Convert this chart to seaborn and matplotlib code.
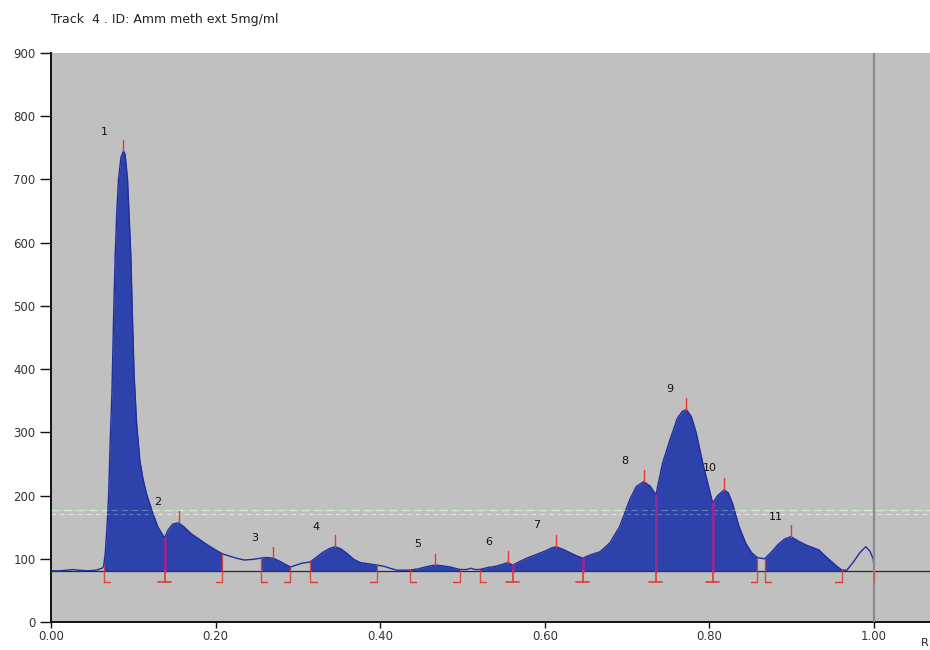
import numpy as np
import pandas as pd
import matplotlib
matplotlib.use("Agg")
import matplotlib.pyplot as plt
import seaborn as sns

# Densitometric scan of track 4 (Rf vs. absorbance units)
rf = [0.000, 0.010, 0.020, 0.027, 0.033, 0.045, 0.055, 0.062, 0.064, 0.066,
      0.068, 0.070, 0.072, 0.074, 0.076, 0.078, 0.080, 0.082, 0.085, 0.088,
      0.090, 0.093, 0.095, 0.097, 0.099, 0.101, 0.104, 0.108, 0.112, 0.116,
      0.124, 0.130, 0.138, 0.142, 0.148, 0.155, 0.162, 0.170, 0.180, 0.190,
      0.200, 0.208, 0.215, 0.225, 0.235, 0.245, 0.255, 0.262, 0.270, 0.278,
      0.285, 0.291, 0.298, 0.305, 0.315, 0.322, 0.330, 0.338, 0.345, 0.352,
      0.360, 0.368, 0.376, 0.386, 0.396, 0.405, 0.412, 0.420, 0.428, 0.436,
      0.446, 0.455, 0.462, 0.467, 0.475, 0.485, 0.497, 0.505, 0.510, 0.515,
      0.521, 0.530, 0.540, 0.548, 0.555, 0.561, 0.570, 0.580, 0.590, 0.600,
      0.608, 0.614, 0.622, 0.630, 0.638, 0.646, 0.655, 0.667, 0.679, 0.691,
      0.703, 0.711, 0.720, 0.728, 0.735, 0.743, 0.752, 0.761, 0.767, 0.772,
      0.778, 0.784, 0.792, 0.800, 0.804, 0.810, 0.818, 0.823, 0.828, 0.836,
      0.844, 0.851, 0.858, 0.862, 0.867, 0.875, 0.883, 0.891, 0.899, 0.908,
      0.917, 0.925, 0.933, 0.941, 0.949, 0.955, 0.961, 0.967, 0.975, 0.983,
      0.990, 0.995, 0.999, 1.000]
au = [81, 81, 82, 83, 82, 81, 82, 85, 88, 110,
      150, 200, 290, 360, 480, 580, 650, 700, 735, 745,
      740, 700, 640, 580, 480, 390, 315, 255, 225, 203,
      171, 150, 133, 145, 155, 157, 150, 140, 131, 122,
      114, 108, 105, 101, 98, 99, 101, 102, 101, 96,
      91, 87, 90, 93, 95, 102, 110, 116, 119, 116,
      108, 99, 94, 92, 90, 88, 85, 82, 82, 82,
      84, 87, 89, 90, 89, 87, 83, 83, 85, 83,
      83, 86, 88, 91, 94, 90, 96, 102, 107, 112,
      117, 119, 115, 110, 105, 101, 106, 111, 125, 151,
      193, 214, 222, 215, 201, 251, 288, 322, 333, 336,
      325, 299, 251, 209, 188, 200, 209, 204, 188, 151,
      125, 110, 102, 101, 100, 110, 122, 131, 135, 128,
      122, 118, 114, 104, 95, 88, 82, 82, 95, 110,
      119, 112, 100, 87]

# Integrated peaks: number, start Rf, end Rf, apex Rf
peak_ids = ["1", "2", "3", "4", "5", "6", "7", "8", "9", "10", "11"]
peak_start = [0.064, 0.138, 0.255, 0.315, 0.436, 0.521, 0.561, 0.646, 0.735, 0.804, 0.867]
peak_end = [0.138, 0.208, 0.291, 0.396, 0.497, 0.561, 0.646, 0.735, 0.804, 0.858, 0.961]
peak_max = [0.088, 0.155, 0.270, 0.345, 0.467, 0.555, 0.614, 0.720, 0.772, 0.818, 0.899]

# Peak number labels (Rf, AU)
label_rf = [0.065, 0.130, 0.248, 0.322, 0.445, 0.532, 0.590, 0.697, 0.752, 0.800, 0.881]
label_au = [775, 190, 133, 150, 124, 126, 153, 254, 368, 243, 166]

x_ticks = [0.0, 0.2, 0.4, 0.6, 0.8, 1.0]
x_labels = ["0.00", "0.20", "0.40", "0.60", "0.80", "1.00"]
y_ticks = [0, 100, 200, 300, 400, 500, 600, 700, 800, 900]

baseline = 81
mark_low = 63

df = pd.DataFrame({"Rf": rf, "AU": au})
rf_arr = np.array(rf)
au_arr = np.array(au)

sns.set_theme(style="white")
plt.rcParams["font.family"] = ["DejaVu Sans"]

fig = plt.figure(figsize=(9.3, 6.5), dpi=100)
ax = fig.add_axes([51 / 930, 28 / 650, 879 / 930, 569 / 650])
ax.set_facecolor("#c0c0c0")

xmax = 879 / 823
ax.set_xlim(0, xmax)
ax.set_ylim(0, 900)

# baseline of the integration
ax.axhline(baseline, color="#2a2a2a", lw=0.9, zorder=1)

# reference lines (mostly hidden behind the peak areas)
ax.axhline(177, color="#c9efc4", lw=1.0, ls=(0, (6, 3)), zorder=1.5)
ax.axhline(171, color="#e4e4e4", lw=0.8, ls=(0, (4, 4)), zorder=1.5)

fill_col = "#2d42aa"
line_col = "#1f2f9e"

for s, e in zip(peak_start, peak_end):
    m = (rf_arr >= s - 1e-9) & (rf_arr <= e + 1e-9)
    ax.fill_between(rf_arr[m], baseline, au_arr[m], color=fill_col,
                    lw=0, zorder=2)

sns.lineplot(data=df, x="Rf", y="AU", ax=ax, color=line_col, lw=1.0,
             zorder=3, estimator=None)

ax.axhline(177, color="#c9efc4", lw=0.8, ls=(0, (6, 3)), alpha=0.35, zorder=4)
ax.axhline(171, color="#e4e4e4", lw=0.7, ls=(0, (4, 4)), alpha=0.35, zorder=4)
ax.axvline(1.0, color="#8a8a8a", lw=1.6, zorder=4)

def curve_at(x):
    return au_arr[np.argmin(np.abs(rf_arr - x))]

red = "#e23a30"
purple = "#8b2c95"
foot = 0.008
shared = set(peak_start) & set(peak_end)

for s in peak_start:
    v = curve_at(s)
    if s in shared:
        ax.plot([s, s], [baseline, v], color=purple, lw=2.2, zorder=5)
        ax.plot([s, s], [mark_low, baseline], color=red, lw=1.2, zorder=5)
        ax.plot([s - foot, s + foot], [mark_low, mark_low], color=red, lw=1.2, zorder=5)
    else:
        ax.plot([s, s], [mark_low, v], color=red, lw=1.0, alpha=0.85, zorder=5)
        ax.plot([s, s + foot], [mark_low, mark_low], color=red, lw=1.0, zorder=5)
for e in peak_end:
    if e in shared:
        continue
    v = curve_at(e)
    ax.plot([e, e], [mark_low, v], color=red, lw=1.0, alpha=0.85, zorder=5)
    ax.plot([e - foot, e], [mark_low, mark_low], color=red, lw=1.0, zorder=5)

# apex ticks
for p in peak_max:
    v = curve_at(p)
    ax.plot([p, p], [v, v + 18], color=red, lw=1.0, zorder=5)

# end-of-scan tick at Rf 1.00
ax.plot([1.0, 1.0], [mark_low, baseline], color=red, lw=1.0, alpha=0.6, zorder=5)

for t, x, y in zip(peak_ids, label_rf, label_au):
    ax.text(x, y, t, fontsize=8, color="#111111", ha="center", va="center",
            zorder=6)

ax.set_xticks(x_ticks)
ax.set_xticklabels(x_labels)
ax.set_yticks(y_ticks)
ax.set_yticklabels([str(v) for v in y_ticks])
ax.tick_params(axis="y", direction="out", length=8, width=1, color="#111111",
               labelsize=8.5, labelcolor="#333333", pad=3, left=True)
ax.tick_params(axis="x", direction="out", length=4, width=1, color="#111111",
               labelsize=8.5, labelcolor="#333333", pad=2, bottom=True)
ax.set_xlabel("")
ax.set_ylabel("")

for side in ["top", "right"]:
    ax.spines[side].set_visible(False)
for side in ["left", "bottom"]:
    ax.spines[side].set_visible(True)
    ax.spines[side].set_color("#111111")
    ax.spines[side].set_linewidth(1.4)

fig.text(51 / 930, 1 - 20 / 650, "Track  4 . ID: Amm meth ext 5mg/ml",
         fontsize=9, color="#222222", ha="left", va="center")
fig.text(921 / 930, 1 - 643 / 650, "R", fontsize=8, color="#222222",
         ha="left", va="center")

fig.savefig("out.png", dpi=100)
